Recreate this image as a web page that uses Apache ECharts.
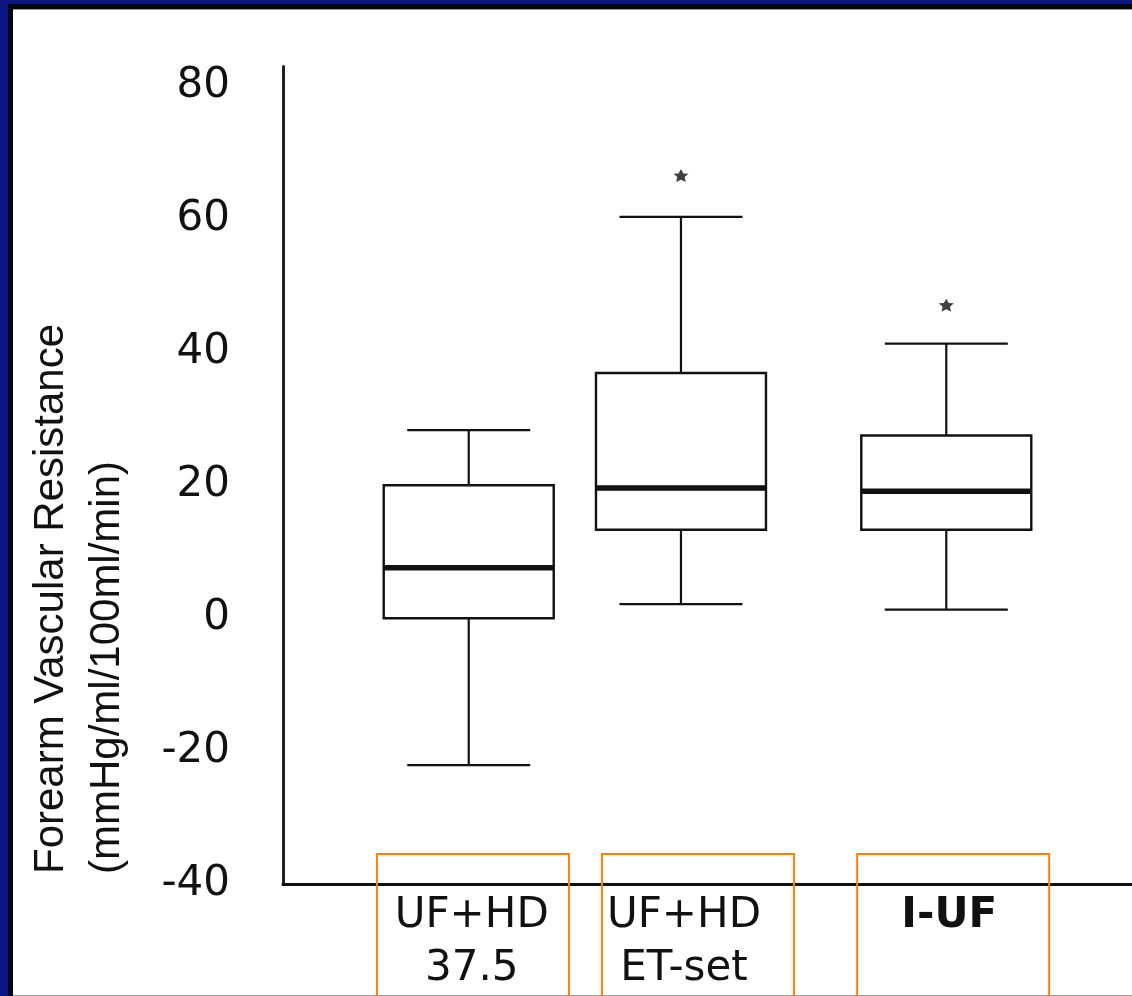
<!DOCTYPE html>
<html>
<head>
<meta charset="utf-8">
<title>Forearm Vascular Resistance</title>
<script src="https://cdn.jsdelivr.net/npm/echarts/dist/echarts.min.js"></script>
<style>
  html, body { margin: 0; padding: 0; width: 1132px; height: 996px; overflow: hidden; background: #0b1682; }
  #edge  { position: absolute; left: 8px; top: 4px; right: 0; bottom: 0; background: #06070d; }
  #panel { position: absolute; left: 13px; top: 9px; right: 0; bottom: 0; background: #ffffff;
           border-top: 1px solid #9a9a9a; border-bottom: 1px solid #9a9a9a; box-sizing: border-box; }
  #chart { position: absolute; left: 0; top: 0; width: 1132px; height: 996px; }
</style>
</head>
<body>
<div id="edge"></div>
<div id="panel"></div>
<div id="chart"></div>
<script>
// ---- data ----
const categories  = ['UF+HD\n37.5', 'UF+HD\nET-set', 'I-UF'];
const whiskerLow  = [-22.1, 2.1, 1.3];
const quartile1   = [0, 13.3, 13.3];
const medians     = [7.6, 19.6, 19.1];
const quartile3   = [20, 36.9, 27.5];
const whiskerHigh = [28.3, 60.4, 41.3];
const outliers    = [null, 66.6, 47.1];
const yTickLabels = [-40, -20, 0, 20, 40, 60, 80];
const yTitle      = ['Forearm Vascular Resistance', '(mmHg/ml/100ml/min)'];

// ---- layout (positions on the horizontal scale 0..16) ----
const slotPos  = [3.5, 7.5, 12.5];     // group centres
const frameMid = [3.58, 7.82, 12.63];  // centres of the orange label frames
const BOX_W = 170, CAP_W = 123;
const FONT_WIDE = '"DejaVu Sans", Verdana, sans-serif';
const FONT_TITLE = '"Liberation Sans", Arial, Helvetica, sans-serif';
const INK = '#111111';

const boxRows = categories.map((c, i) =>
  [slotPos[i], whiskerLow[i], quartile1[i], medians[i], quartile3[i], whiskerHigh[i]]);
const labelRows = categories.map((c, i) => [frameMid[i], -40, slotPos[i], i]);
const outlierRows = [];
outliers.forEach((v, i) => { if (v !== null) outlierRows.push([slotPos[i], v]); });

function renderBox(params, api) {
  const x = api.value(0);
  const lo = api.coord([x, api.value(1)]);
  const q1 = api.coord([x, api.value(2)]);
  const md = api.coord([x, api.value(3)]);
  const q3 = api.coord([x, api.value(4)]);
  const hi = api.coord([x, api.value(5)]);
  const cx = lo[0];
  const thin = { stroke: INK, lineWidth: 2.2 };
  return {
    type: 'group',
    children: [
      { type: 'line', shape: { x1: cx, y1: hi[1], x2: cx, y2: q3[1] }, style: thin },
      { type: 'line', shape: { x1: cx, y1: q1[1], x2: cx, y2: lo[1] }, style: thin },
      { type: 'line', shape: { x1: cx - CAP_W / 2, y1: hi[1], x2: cx + CAP_W / 2, y2: hi[1] }, style: thin },
      { type: 'line', shape: { x1: cx - CAP_W / 2, y1: lo[1], x2: cx + CAP_W / 2, y2: lo[1] }, style: thin },
      { type: 'rect', shape: { x: cx - BOX_W / 2, y: q3[1], width: BOX_W, height: q1[1] - q3[1] },
        style: { fill: '#ffffff', stroke: INK, lineWidth: 2.4 } },
      { type: 'line', shape: { x1: cx - BOX_W / 2, y1: md[1], x2: cx + BOX_W / 2, y2: md[1] },
        style: { stroke: INK, lineWidth: 5.5 } }
    ]
  };
}

function renderLabel(params, api) {
  const base = api.coord([api.value(0), api.value(1)]);
  const textX = api.coord([api.value(2), api.value(1)])[0] + 3;
  const idx = api.value(3);
  const name = categories[idx];
  const single = name.indexOf('\n') < 0;
  return {
    type: 'group',
    children: [
      { type: 'rect', shape: { x: base[0] - 96, y: base[1] - 30, width: 192, height: 160 },
        style: { fill: 'none', stroke: '#ff800a', lineWidth: 2 }, z2: 5 },
      { type: 'text', x: textX, y: base[1] + 6,
        style: { text: name, fill: INK, fontFamily: FONT_WIDE, fontSize: 42,
                 fontWeight: single ? 'bold' : 'normal', lineHeight: 53,
                 align: 'center', verticalAlign: 'top' } }
    ]
  };
}

const chart = echarts.init(document.getElementById('chart'), null, { renderer: 'canvas' });
chart.setOption({
  animation: false,
  grid: { left: 283, right: 0, top: 66.6, bottom: 112, outerBoundsMode: 'none', containLabel: false },
  xAxis: {
    type: 'value', min: 0, max: 16,
    axisLine: { show: true, onZero: false, lineStyle: { color: INK, width: 3 } },
    axisTick: { show: false }, axisLabel: { show: false }, splitLine: { show: false }
  },
  yAxis: {
    type: 'value', min: -40, max: 83, interval: 20,
    axisLine: { show: true, onZero: false, lineStyle: { color: '#222', width: 3 } },
    axisTick: { show: false }, splitLine: { show: false },
    axisLabel: {
      margin: 53, color: INK, fontFamily: FONT_WIDE, fontSize: 42,
      formatter: v => (yTickLabels.indexOf(v) >= 0 ? String(v) : '')
    }
  },
  graphic: [{
    type: 'text', x: 79, y: 874, rotation: Math.PI / 2,
    style: { text: yTitle.join('\n'), fill: INK, fontFamily: FONT_TITLE, fontSize: 42,
             lineHeight: 56, align: 'left', verticalAlign: 'middle' }
  }],
  series: [
    { type: 'custom', name: 'box', data: boxRows, renderItem: renderBox,
      encode: { x: 0, y: [1, 2, 3, 4, 5] }, clip: false },
    { type: 'custom', name: 'labels', data: labelRows, renderItem: renderLabel,
      encode: { x: 0, y: 1 }, clip: false, silent: true },
    { type: 'scatter', name: 'outliers', data: outlierRows,
      symbol: 'path://M0,-10 L3.2,-3.8 L9.8,-3.3 L4.9,1.4 L6.2,8.6 L0,5.2 L-6.2,8.6 L-4.9,1.4 L-9.8,-3.3 L-3.2,-3.8 Z',
      symbolSize: [15, 13], itemStyle: { color: INK } }
  ]
});
</script>
</body>
</html>
